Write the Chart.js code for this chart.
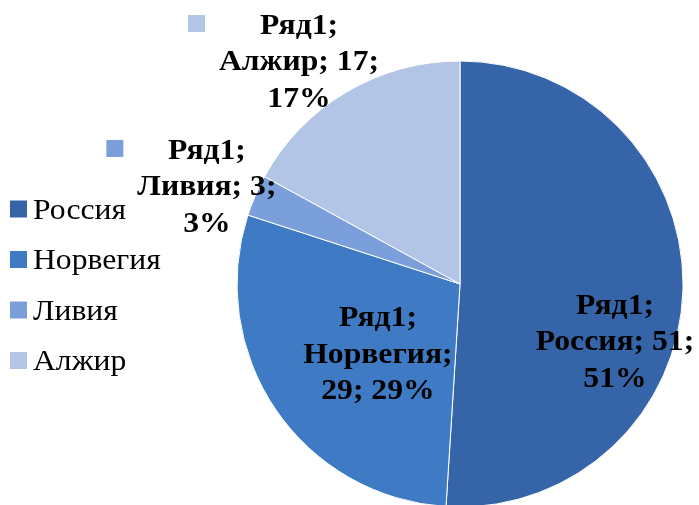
<!DOCTYPE html>
<html>
<head>
<meta charset="utf-8">
<script src="https://cdn.jsdelivr.net/npm/chart.js@4"></script>
<style>
  html, body { margin: 0; padding: 0; background: #ffffff; overflow: hidden; }
  #wrap { width: 699px; height: 505px; position: relative; }
</style>
</head>
<body>
<div id="wrap"><canvas id="c" width="699" height="505"></canvas></div>
<script>
// ---- data ----
const seriesName = 'Ряд1';
const categories = ['Россия', 'Норвегия', 'Ливия', 'Алжир'];
const values = [51, 29, 3, 17];
const colors = ['#3565A8', '#3E7BC4', '#7A9FDA', '#B3C5E7'];

// ---- label placement (relative to pie centre, in radius units) ----
const labelPlacement = [
  [0.695, 0.262],
  [-0.368, 0.318],
  [-1.135, -0.433],
  [-0.722, -0.993]
];

const LABEL_FONT = 'bold 30px "Liberation Serif", "Times New Roman", serif';
const LEGEND_FONT = '30px "Liberation Serif", "Times New Roman", serif';
const SX = 1.055; // horizontal stretch of text seen in the reference

function stretchedText(ctx, t, x, y) {
  ctx.save();
  ctx.translate(x, y);
  ctx.scale(SX, 1);
  ctx.fillText(t, 0, 0);
  ctx.restore();
}

function wrapWords(ctx, text, maxW) {
  const words = text.split(' ');
  const lines = [];
  let cur = '';
  for (const w of words) {
    const t = cur ? cur + ' ' + w : w;
    if (cur && ctx.measureText(t).width * SX > maxW) { lines.push(cur); cur = w; }
    else cur = t;
  }
  if (cur) lines.push(cur);
  return lines;
}

const labelPlugin = {
  id: 'excelLabels',
  afterDatasetsDraw(chart) {
    const ctx = chart.ctx;
    const meta = chart.getDatasetMeta(0);
    const data = chart.data.datasets[0].data;
    const total = data.reduce((a, b) => a + b, 0);
    ctx.save();
    ctx.font = LABEL_FONT;
    ctx.fillStyle = '#000000';
    ctx.textAlign = 'center';
    ctx.textBaseline = 'middle';
    const lh = 36.5;
    meta.data.forEach((arc, i) => {
      const r = arc.outerRadius;
      const pct = Math.round(data[i] / total * 100);
      const text = seriesName + '; ' + chart.data.labels[i] + '; ' + data[i] + '; ' + pct + '%';
      const lines = wrapWords(ctx, text, 172);
      const cx = arc.x + labelPlacement[i][0] * r;
      const cy = arc.y + labelPlacement[i][1] * r;
      const n = lines.length;
      let maxW = 0;
      lines.forEach((ln, k) => {
        const y = cy + (k - (n - 1) / 2) * lh;
        stretchedText(ctx, ln, cx, y);
        maxW = Math.max(maxW, ctx.measureText(ln).width * SX);
      });
      // outside labels carry a legend key
      const dist = Math.hypot(labelPlacement[i][0], labelPlacement[i][1]);
      if (dist > 1) {
        const firstY = cy - (n - 1) / 2 * lh;
        const right = cx - maxW / 2 - 14;
        ctx.fillStyle = chart.data.datasets[0].backgroundColor[i];
        ctx.fillRect(right - 17, firstY - 11, 17, 17);
        ctx.fillStyle = '#000000';
      }
    });
    ctx.restore();
  }
};

const legendPlugin = {
  id: 'leftLegend',
  afterDraw(chart) {
    const ctx = chart.ctx;
    ctx.save();
    ctx.font = LEGEND_FONT;
    ctx.textAlign = 'left';
    ctx.textBaseline = 'alphabetic';
    chart.data.labels.forEach((lab, i) => {
      const base = 218.5 + i * 50.5;
      ctx.fillStyle = chart.data.datasets[0].backgroundColor[i];
      ctx.fillRect(10, base - 18, 17, 17);
      ctx.fillStyle = '#000000';
      stretchedText(ctx, lab, 33, base);
    });
    ctx.restore();
  }
};

new Chart(document.getElementById('c'), {
  type: 'pie',
  data: {
    labels: categories,
    datasets: [{
      label: seriesName,
      data: values,
      backgroundColor: colors,
      borderColor: '#ffffff',
      borderWidth: 1,
      radius: 223,
      clip: false
    }]
  },
  options: {
    responsive: false,
    animation: false,
    layout: { padding: { left: 237, right: 16, top: 63, bottom: 0 } },
    plugins: {
      legend: { display: false },
      tooltip: { enabled: false }
    }
  },
  plugins: [labelPlugin, legendPlugin]
});
</script>
</body>
</html>
